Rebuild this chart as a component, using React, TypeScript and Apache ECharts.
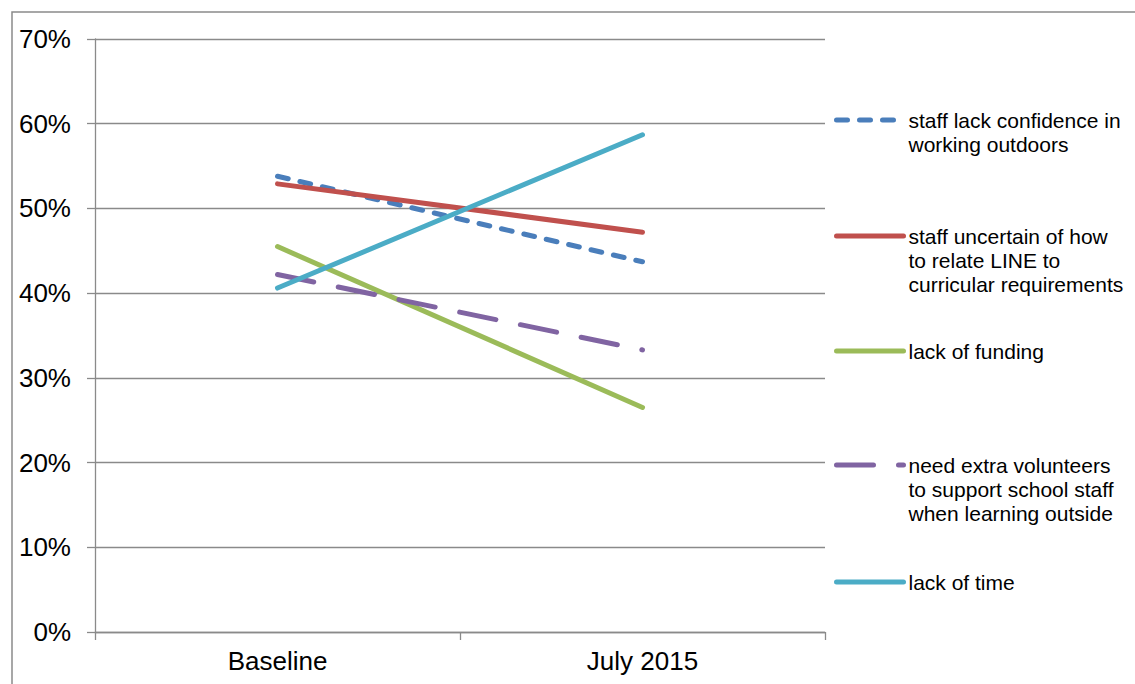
import React, { useEffect, useRef } from "react";
import * as echarts from "echarts";

const categories = ["Baseline", "July 2015"];
const seriesNames = [
  "staff lack confidence in\nworking outdoors",
  "staff uncertain of how\nto relate LINE to\ncurricular requirements",
  "lack of funding",
  "need extra volunteers\nto support school staff\nwhen learning outside",
  "lack of time",
];
const seriesValues = [
  [53.8, 43.7],
  [52.9, 47.2],
  [45.5, 26.5],
  [42.2, 33.3],
  [40.6, 58.7],
];
const seriesColors = ["#4A7EBB", "#C0504D", "#9BBB59", "#8064A2", "#4BACC6"];
const seriesDash: any[] = [[11, 12], "solid", "solid", [37, 25], "solid"];
const yTicks = { min: 0, max: 70, interval: 10 };
const legendCenters = [120, 236, 351, 465, 582];

const FONT = "'Liberation Sans', Arial, sans-serif";
const LINE_H = 24;

export default function App() {
  const ref = useRef<HTMLDivElement>(null);
  useEffect(() => {
    document.body.style.margin = "0";
    const chart = echarts.init(ref.current!, null, { renderer: "svg" });
    const legends = seriesNames.map((name, i) => {
      const n = name.split("\n").length;
      const total = 2 * n - 1;
      return {
        data: [name],
        left: 834,
        top: legendCenters[i] - (total * LINE_H) / 2,
        orient: "vertical",
        padding: 0,
        itemWidth: 67,
        itemHeight: 14,
        selectedMode: false,
        itemStyle: { opacity: 0, borderWidth: 0 },
        lineStyle: {
          color: seriesColors[i],
          width: 5,
          type: seriesDash[i],
          cap: "round",
          opacity: 1,
        },
        formatter: (nm: string) => {
          const k = nm.split("\n").length;
          return Array(k - 1).fill(" ").concat([nm]).join("\n");
        },
        textStyle: {
          fontFamily: FONT,
          fontSize: 21,
          color: "#000",
          lineHeight: LINE_H,
        },
      };
    });
    chart.setOption({
      animation: false,
      backgroundColor: "#fff",
      textStyle: { fontFamily: FONT },
      graphic: [
        {
          type: "rect",
          shape: { x: 12, y: 12, width: 1300, height: 900 },
          style: { fill: "none", stroke: "#8a8a8a", lineWidth: 1.5 },
          silent: true,
          z: -1,
        },
      ],
      grid: { left: 95, right: 310, top: 39, bottom: 52, containLabel: false },
      legend: legends,
      xAxis: {
        type: "category",
        data: categories,
        boundaryGap: true,
        axisLine: { show: true, lineStyle: { color: "#8a8a8a", width: 1.3 } },
        axisTick: { show: true, length: 8, lineStyle: { color: "#8a8a8a", width: 1.3 } },
        axisLabel: { fontSize: 26, color: "#000", margin: 16, fontFamily: FONT },
        splitLine: { show: false },
      },
      yAxis: {
        type: "value",
        min: yTicks.min,
        max: yTicks.max,
        interval: yTicks.interval,
        axisLine: { show: true, lineStyle: { color: "#8a8a8a", width: 1.3 } },
        axisTick: { show: true, length: 8, lineStyle: { color: "#8a8a8a", width: 1.3 } },
        axisLabel: { fontSize: 26, color: "#000", margin: 24, fontFamily: FONT, formatter: "{value}%" },
        splitLine: { show: true, lineStyle: { color: "#8a8a8a", width: 1.3 } },
      },
      series: seriesNames.map((name, i) => ({
        name,
        type: "line",
        data: seriesValues[i],
        symbol: "none",
        showSymbol: false,
        color: seriesColors[i],
        lineStyle: { color: seriesColors[i], width: 5, type: seriesDash[i], cap: "round" },
      })),
    });
    return () => chart.dispose();
  }, []);
  return <div ref={ref} style={{ width: 1135, height: 684 }} />;
}
